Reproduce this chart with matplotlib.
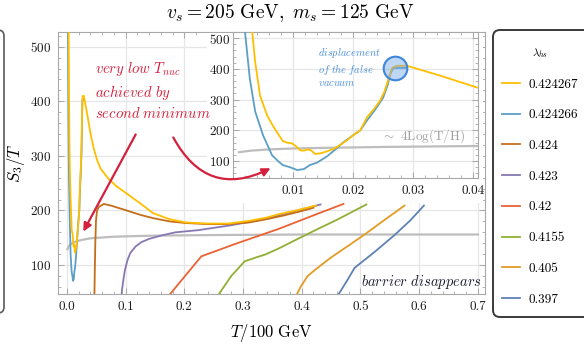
import matplotlib
matplotlib.use("Agg")
import matplotlib.pyplot as plt
from matplotlib.patches import FancyBboxPatch, Rectangle, FancyArrowPatch
from matplotlib.lines import Line2D
from matplotlib.ticker import MultipleLocator, FormatStrFormatter
from matplotlib.transforms import IdentityTransform

plt.rcParams['font.family'] = 'serif'
plt.rcParams['font.serif'] = ['cmr10']
plt.rcParams['mathtext.fontset'] = 'cm'
plt.rcParams['axes.formatter.use_mathtext'] = True

# --- data: T/100 GeV vs S3/T for each lambda_hs ---
labels = ['0.424267', '0.424266', '0.424', '0.423', '0.42', '0.4155', '0.405', '0.397']
colors = ['#FFBF00', '#5D9EC7', '#C56E1A', '#8778B3', '#EB6235', '#8FB032', '#E19C24', '#5E81B5']

yellow_T = [0.0030, 0.0032, 0.0037, 0.0045, 0.0057, 0.0067, 0.0083, 0.0090, 0.0098, 0.0105,
            0.0112, 0.0118, 0.0124, 0.0130, 0.0137, 0.0147, 0.0157, 0.0168, 0.0178, 0.0190,
            0.0200, 0.0212, 0.0223, 0.0235, 0.0245, 0.0252, 0.0258, 0.0265, 0.0273, 0.0290,
            0.0350, 0.0407, 0.046, 0.052, 0.058, 0.071, 0.085, 0.102, 0.125, 0.147,
            0.175, 0.203, 0.24, 0.275, 0.31, 0.34, 0.36, 0.39, 0.424]
yellow_S = [560, 520, 422, 313, 248, 213, 165, 160, 158, 148,
            135, 134, 138, 135, 123, 126, 132, 140, 152, 168,
            184, 200, 242, 270, 297, 325, 361, 403, 410, 410,
            375, 339, 313, 291, 276, 258, 244, 231, 213, 195,
            184, 178, 176, 176, 181, 187, 193, 200, 209]

blue_T = [0.0018, 0.0020, 0.0028, 0.0037, 0.0050, 0.0065, 0.0075, 0.0083, 0.0095, 0.0107,
          0.0118, 0.0128, 0.0140, 0.0157, 0.0170, 0.0183, 0.0200, 0.0212, 0.0223, 0.0237,
          0.0250, 0.0258, 0.0262, 0.0267, 0.0290]
blue_S = [560, 520, 368, 261, 184, 119, 100, 87, 80, 71,
          74, 87, 95, 116, 137, 160, 184, 200, 232, 268,
          306, 350, 384, 403, 403]

brown_T = [0.0468, 0.0475, 0.0485, 0.0497, 0.0515, 0.055, 0.063, 0.075, 0.09, 0.102,
           0.125, 0.147, 0.175, 0.203, 0.24, 0.275, 0.31, 0.34, 0.37, 0.40, 0.42]
brown_S = [30, 80, 140, 182, 200, 207, 212, 209, 204, 200,
           192, 186, 180, 177, 175, 175, 178, 184, 191, 199, 205]

purple_T = [0.092, 0.094, 0.097, 0.099, 0.103, 0.108, 0.117, 0.127, 0.140, 0.164,
            0.185, 0.224, 0.28, 0.33, 0.393, 0.432]
purple_S = [30, 55, 78, 91, 108, 122, 134, 142, 148, 155,
            160, 164, 173, 183, 200, 211]

red_T = [0.163, 0.176, 0.229, 0.29, 0.36, 0.427, 0.471]
red_S = [30, 47, 116, 140, 166, 194, 212]

green_T = [0.255, 0.259, 0.28, 0.303, 0.325, 0.337, 0.36, 0.397, 0.429, 0.46, 0.51]
green_S = [30, 47, 80, 107, 115, 119, 130, 150, 167, 183, 211]

orange_T = [0.388, 0.392, 0.398, 0.41, 0.427, 0.45, 0.48, 0.507, 0.54, 0.575]
orange_S = [30, 47, 60, 80, 95, 114, 136, 156, 182, 209]

dblue_T = [0.459, 0.463, 0.478, 0.49, 0.524, 0.558, 0.585, 0.608]
dblue_S = [30, 47, 73, 95, 124, 155, 182, 209]

gray_T = [0.001, 0.003, 0.006, 0.010, 0.015, 0.025, 0.04, 0.08, 0.15, 0.25, 0.4, 0.55, 0.70]
gray_S = [129, 134, 138, 141, 143, 146, 149, 152, 154, 155, 156, 156, 156]

series_T = [yellow_T, blue_T, brown_T, purple_T, red_T, green_T, orange_T, dblue_T]
series_S = [yellow_S, blue_S, brown_S, purple_S, red_S, green_S, orange_S, dblue_S]

fv_point = (0.0270, 402)  # "displacement of the false vacuum" marker

W, H = 584, 344
fig = plt.figure(figsize=(W / 100, H / 100), dpi=100)


def px_box(x0, y0, x1, y1):
    return [x0 / W, 1 - y1 / H, (x1 - x0) / W, (y1 - y0) / H]


def fp(x, y):
    return (x / W, 1 - y / H)


frame_c = '#a8a8a8'


def style(a):
    for s in a.spines.values():
        s.set_color(frame_c)
        s.set_linewidth(0.8)
    a.tick_params(which='both', direction='in', top=True, right=True,
                  color=frame_c, labelcolor='#1a1a1a', labelsize=9.5, pad=5)
    a.tick_params(which='major', length=4.5, width=0.7)
    a.tick_params(which='minor', length=2.5, width=0.6)
    a.grid(True, which='major', color='#e6e6e6', lw=0.9)
    a.set_axisbelow(True)


# main axes
ax = fig.add_axes(px_box(58, 32, 485, 294))
style(ax)
ax.plot(gray_T, gray_S, color='#bdbdbd', lw=1.6, zorder=2)
for T, S, c in reversed(list(zip(series_T, series_S, colors))):
    ax.plot(T, S, color=c, lw=1.3, zorder=3)
ax.set_xlim(-0.015, 0.712)
ax.set_ylim(47, 527)
ax.xaxis.set_major_locator(MultipleLocator(0.1))
ax.xaxis.set_minor_locator(MultipleLocator(0.02))
ax.xaxis.set_major_formatter(FormatStrFormatter('%.1f'))
ax.yaxis.set_major_locator(MultipleLocator(100))
ax.yaxis.set_minor_locator(MultipleLocator(20))
ax.set_xlabel(r'$T/100\ \mathrm{GeV}$', fontsize=12)
ax.set_ylabel(r'$S_3/T$', fontsize=12)
ax.xaxis.set_label_coords(0.5, -(322 - 294) / 262)
ax.yaxis.set_label_coords((27 - 58) / 427, 0.5)
ax.text(0.993, (294 - 282) / 262, r'$barrier\ disappears$', transform=ax.transAxes,
        ha='right', va='center', fontsize=10.5, color='#1c1c30')

# white backing behind the inset and its tick labels
fig.add_artist(Rectangle((207 / W, 1 - 203 / H), (483 - 207) / W, (203 - 33) / H,
                         transform=fig.transFigure, facecolor='white', edgecolor='none', zorder=1))

# inset
axi = fig.add_axes(px_box(233, 32, 478, 178), zorder=2)
style(axi)
axi.plot(gray_T, gray_S, color='#bdbdbd', lw=1.6, zorder=2)
axi.plot(blue_T, blue_S, color=colors[1], lw=1.3, zorder=3)
axi.plot(yellow_T, yellow_S, color=colors[0], lw=1.3, zorder=4)
axi.plot([fv_point[0]], [fv_point[1]], 'o', ms=17, mfc=(0.45, 0.65, 0.92, 0.45),
         mec='#3f86d8', mew=1.5, zorder=5)
axi.set_xlim(0, 0.0408)
axi.set_ylim(45, 520)
axi.set_xticks([0.01, 0.02, 0.03, 0.04])
axi.xaxis.set_minor_locator(MultipleLocator(0.002))
axi.xaxis.set_major_formatter(FormatStrFormatter('%.2f'))
axi.yaxis.set_major_locator(MultipleLocator(100))
axi.yaxis.set_minor_locator(MultipleLocator(20))
axi.tick_params(axis='y', pad=2)
axi.text(0.0247, 180, r'$\sim$ 4Log(T/H)', fontsize=9.5, color='#a0a0a0', va='center')
axi.text(0.0142, 476, '$displacement$\n$of\\ the\\ false$\n$vacuum$', fontsize=7.5,
         color='#4a8fdc', va='top', linespacing=1.2)

# annotations
red_c = '#d4203c'
fig.text(95 / W, 1 - 60 / H, '$very\\ low\\ T_{nuc}$\n$achieved\\ by$\n$second\\ minimum$',
         color=red_c, fontsize=10.6, va='top', ha='left', linespacing=1.35, zorder=6)
fig.add_artist(FancyArrowPatch(fp(137, 132), fp(82, 234), transform=fig.transFigure,
                               arrowstyle='-|>', mutation_scale=12, color=red_c, lw=1.6, zorder=6))
fig.add_artist(FancyArrowPatch(fp(172, 135), fp(273, 167), transform=fig.transFigure,
                               connectionstyle='arc3,rad=0.5', arrowstyle='-|>',
                               mutation_scale=12, color=red_c, lw=1.6, zorder=6))

fig.text(290 / W, 1 - 13 / H, r'$v_s = 205\ \mathrm{GeV},\ m_s = 125\ \mathrm{GeV}$',
         ha='center', va='center', fontsize=14)

# legend frames (right one holds this chart's legend, left one is cut off)
fig.add_artist(FancyBboxPatch((493, H - 317), 130, 287, boxstyle='round,pad=0,rounding_size=7',
                              transform=IdentityTransform(), facecolor='white',
                              edgecolor='#3a3a3a', lw=1.4, zorder=1))
fig.add_artist(FancyBboxPatch((-30, H - 313), 34, 283, boxstyle='round,pad=0,rounding_size=6',
                              transform=IdentityTransform(), facecolor='none',
                              edgecolor='#5a5a5a', lw=1.2, zorder=1))

handles = [Line2D([], [], color=c, lw=1.3) for c in colors]
leg = fig.legend(handles, labels, loc='upper left', bbox_to_anchor=(502 / W, 1 - 46 / H),
                 frameon=False, fontsize=9.5, title=r'$\lambda_{hs}$', title_fontsize=8,
                 labelspacing=1.40, handlelength=1.35, handletextpad=0.65,
                 borderaxespad=0, borderpad=0)
leg.set_zorder(7)

fig.savefig('out.png', dpi=100)
